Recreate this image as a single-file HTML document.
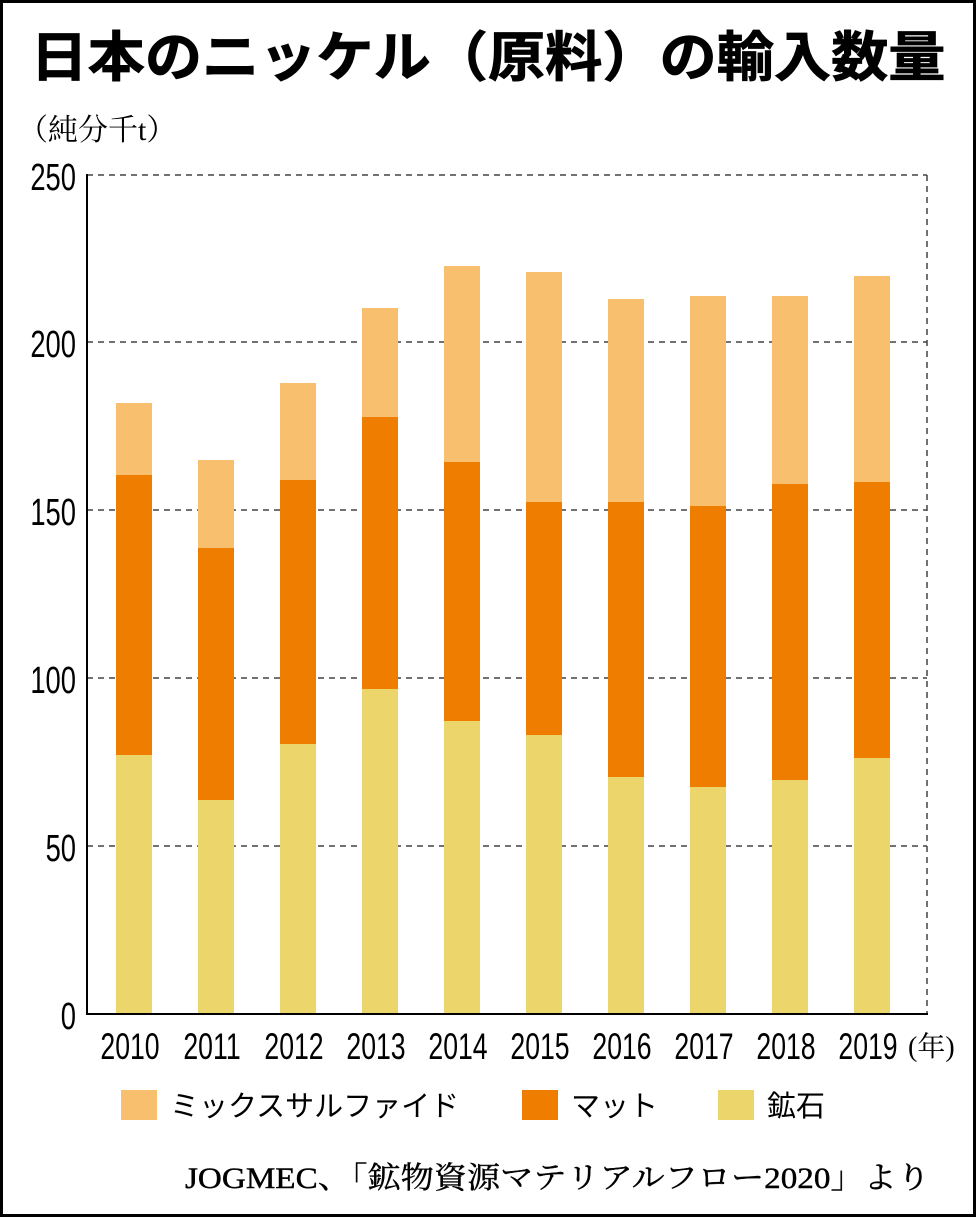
<!DOCTYPE html>
<html><head><meta charset="utf-8"><style>
html,body{margin:0;padding:0;background:#fff}
body{width:976px;height:1217px;overflow:hidden}
</style></head><body>
<svg width="976" height="1217" viewBox="0 0 976 1217" xmlns="http://www.w3.org/2000/svg">
<rect x="1.5" y="1.5" width="973" height="1214" fill="#fff" stroke="#000" stroke-width="3"/>
<text x="488" y="76" text-anchor="middle" font-family="'Liberation Sans','Noto Sans CJK JP',sans-serif" font-weight="bold" font-size="54" textLength="915" lengthAdjust="spacingAndGlyphs" stroke="#000" stroke-width="0.8">日本のニッケル（原料）の輸入数量</text>
<text x="18" y="140" font-family="'Liberation Serif','Noto Serif CJK SC',serif" font-size="30">（純分千t）</text>
<g stroke="#444" stroke-width="1.5" stroke-dasharray="6,5" fill="none">
<line x1="87" y1="175" x2="927" y2="175"/>
<line x1="87" y1="342" x2="927" y2="342"/>
<line x1="87" y1="510" x2="927" y2="510"/>
<line x1="87" y1="678" x2="927" y2="678"/>
<line x1="87" y1="846" x2="927" y2="846"/>
<line x1="927" y1="175" x2="927" y2="1014"/>
</g>
<g id="bars">
<rect x="116" y="403" width="36" height="72" fill="#f7bf6e"/><rect x="116" y="475" width="36" height="280" fill="#ef7d00"/><rect x="116" y="755" width="36" height="259" fill="#ecd56a"/>
<rect x="198" y="460" width="36" height="88" fill="#f7bf6e"/><rect x="198" y="548" width="36" height="252" fill="#ef7d00"/><rect x="198" y="800" width="36" height="214" fill="#ecd56a"/>
<rect x="280" y="383" width="36" height="97" fill="#f7bf6e"/><rect x="280" y="480" width="36" height="264" fill="#ef7d00"/><rect x="280" y="744" width="36" height="270" fill="#ecd56a"/>
<rect x="362" y="308" width="36" height="109" fill="#f7bf6e"/><rect x="362" y="417" width="36" height="272" fill="#ef7d00"/><rect x="362" y="689" width="36" height="325" fill="#ecd56a"/>
<rect x="444" y="266" width="36" height="196" fill="#f7bf6e"/><rect x="444" y="462" width="36" height="259" fill="#ef7d00"/><rect x="444" y="721" width="36" height="293" fill="#ecd56a"/>
<rect x="526" y="272" width="36" height="230" fill="#f7bf6e"/><rect x="526" y="502" width="36" height="233" fill="#ef7d00"/><rect x="526" y="735" width="36" height="279" fill="#ecd56a"/>
<rect x="608" y="299" width="36" height="203" fill="#f7bf6e"/><rect x="608" y="502" width="36" height="275" fill="#ef7d00"/><rect x="608" y="777" width="36" height="237" fill="#ecd56a"/>
<rect x="690" y="296" width="36" height="210" fill="#f7bf6e"/><rect x="690" y="506" width="36" height="281" fill="#ef7d00"/><rect x="690" y="787" width="36" height="227" fill="#ecd56a"/>
<rect x="772" y="296" width="36" height="188" fill="#f7bf6e"/><rect x="772" y="484" width="36" height="296" fill="#ef7d00"/><rect x="772" y="780" width="36" height="234" fill="#ecd56a"/>
<rect x="854" y="276" width="36" height="206" fill="#f7bf6e"/><rect x="854" y="482" width="36" height="276" fill="#ef7d00"/><rect x="854" y="758" width="36" height="256" fill="#ecd56a"/>
</g>
<line x1="87" y1="174" x2="87" y2="1015" stroke="#000" stroke-width="2"/>
<line x1="86" y1="1014" x2="928" y2="1014" stroke="#000" stroke-width="2"/>
<g font-family="'Liberation Sans',sans-serif" font-size="38" text-anchor="end">
<text transform="translate(76 190) scale(0.72 1)">250</text>
<text transform="translate(76 357) scale(0.72 1)">200</text>
<text transform="translate(76 525) scale(0.72 1)">150</text>
<text transform="translate(76 693) scale(0.72 1)">100</text>
<text transform="translate(76 861) scale(0.72 1)">50</text>
<text transform="translate(76 1029) scale(0.72 1)">0</text>
</g>
<g font-family="'Liberation Sans',sans-serif" font-size="37" text-anchor="middle">
<text transform="translate(130 1059) scale(0.72 1)">2010</text>
<text transform="translate(212 1059) scale(0.72 1)">2011</text>
<text transform="translate(294 1059) scale(0.72 1)">2012</text>
<text transform="translate(376 1059) scale(0.72 1)">2013</text>
<text transform="translate(458 1059) scale(0.72 1)">2014</text>
<text transform="translate(540 1059) scale(0.72 1)">2015</text>
<text transform="translate(622 1059) scale(0.72 1)">2016</text>
<text transform="translate(704 1059) scale(0.72 1)">2017</text>
<text transform="translate(786 1059) scale(0.72 1)">2018</text>
<text transform="translate(868 1059) scale(0.72 1)">2019</text>
</g>
<text x="908" y="1056" font-family="'Liberation Serif','Noto Serif CJK SC',serif" font-size="28">(年)</text>
<rect x="121" y="1090" width="36" height="30" fill="#f7bf6e"/>
<text x="170" y="1116" font-family="'Liberation Sans','Noto Sans CJK JP',sans-serif" font-size="29">ミックスサルファイド</text>
<rect x="522" y="1090" width="36" height="30" fill="#ef7d00"/>
<text x="571" y="1116" font-family="'Liberation Sans','Noto Sans CJK JP',sans-serif" font-size="29">マット</text>
<rect x="718" y="1090" width="36" height="30" fill="#ecd56a"/>
<text x="767" y="1116" font-family="'Liberation Sans','Noto Sans CJK JP',sans-serif" font-size="29">鉱石</text>
<text x="930" y="1188" text-anchor="end" font-family="'Liberation Serif','Noto Serif CJK SC',serif" font-size="30" textLength="745" lengthAdjust="spacingAndGlyphs" stroke="#000" stroke-width="0.4">JOGMEC、「鉱物資源マテリアルフロー2020」より</text>
</svg>
</body></html>
